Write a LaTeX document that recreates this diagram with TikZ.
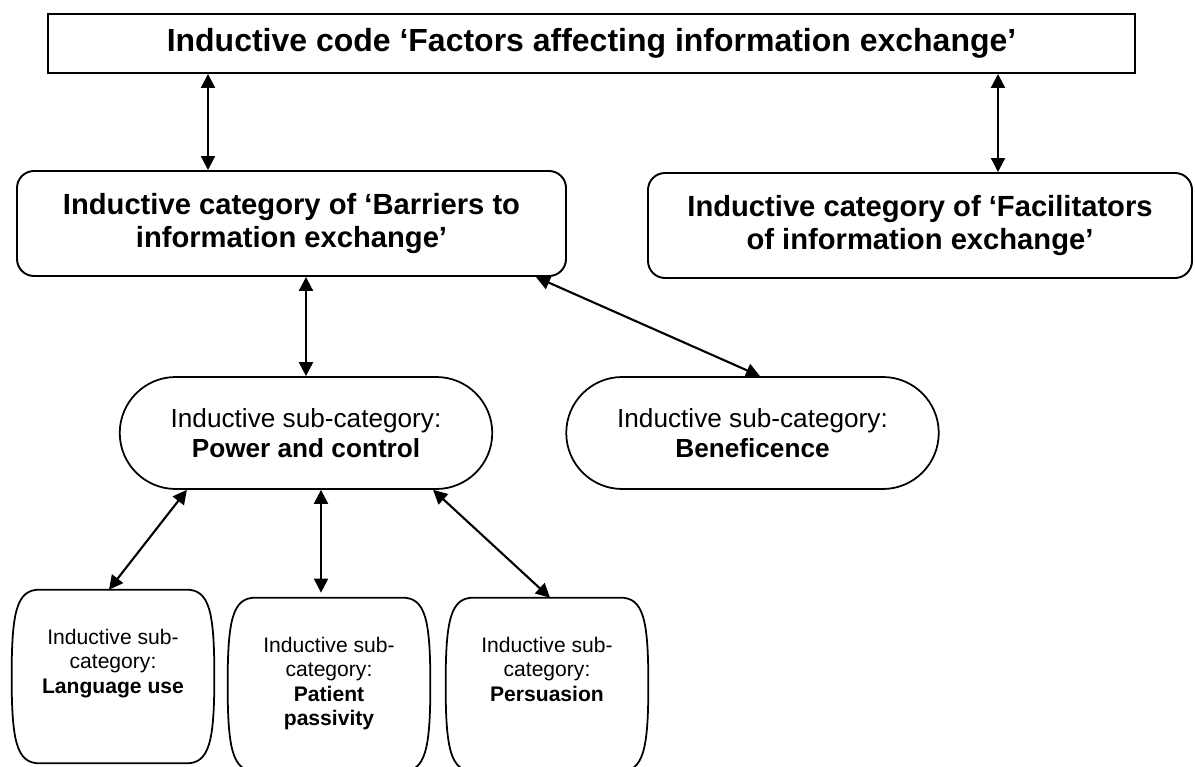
\documentclass[tikz,border=0pt]{standalone}
\usepackage{fontspec}
\setmainfont{Liberation Sans}
\usepackage{xcolor}
\usetikzlibrary{arrows.meta,positioning}

\begin{document}
\begin{tikzpicture}
\tikzset{every node/.style={align=center,inner sep=0pt}}
\tikzset{codebox/.style={draw,line width=1.1pt,minimum width=21.74cm,minimum height=1.18cm,font=\fontsize{18.2}{21}\selectfont\bfseries}}
\tikzset{catbox/.style={draw,line width=1.1pt,rounded corners=0.34cm,minimum width=10.98cm,minimum height=2.1cm,font=\fontsize{16.6}{19.1}\selectfont\bfseries}}
\tikzset{subcat/.style={draw,line width=1pt,rounded corners=1.12cm,minimum width=7.45cm,minimum height=2.24cm,font=\fontsize{14.9}{17.2}\selectfont}}
\tikzset{subsub/.style={minimum width=4.04cm,minimum height=3.46cm}}
\tikzset{subsubtext/.style={font=\fontsize{12}{13.9}\selectfont}}
\tikzset{link/.style={line width=1.2pt,>={Triangle[length=0.28cm,width=0.28cm]},<->}}

\useasboundingbox (0,0) rectangle (23.9,-15.34);

\node[codebox] (code) at (11.83,-0.87) {Inductive code ‘Factors affecting information exchange’};

\node[catbox] (barriers) at (5.83,-4.47) {Inductive category of ‘Barriers to\\information exchange’};
\node[catbox,minimum width=10.88cm] (facil) at (18.4,-4.51) {Inductive category of ‘Facilitators\\of information exchange’};

\node[subcat] (power) at (6.12,-8.66) {Inductive sub-category:\\{\bfseries Power and control}};
\node[subcat] (benef) at (15.05,-8.66) {Inductive sub-category:\\{\bfseries Beneficence}};

\node[subsub] (lang) at (2.26,-13.53) {};
\node[subsub] (patient) at (6.58,-13.69) {};
\node[subsub] (persuade) at (10.94,-13.69) {};
\foreach \n in {lang,patient,persuade}
  \draw[line width=1pt] ([xshift=0.56cm]\n.north west) -- ([xshift=-0.56cm]\n.north east)
    .. controls ([xshift=-0.1cm]\n.north east) and ([yshift=1.3cm]\n.east) .. (\n.east)
    .. controls ([yshift=-1.3cm]\n.east) and ([xshift=-0.1cm]\n.south east) .. ([xshift=-0.56cm]\n.south east)
    -- ([xshift=0.56cm]\n.south west)
    .. controls ([xshift=0.1cm]\n.south west) and ([yshift=-1.3cm]\n.west) .. (\n.west)
    .. controls ([yshift=1.3cm]\n.west) and ([xshift=0.1cm]\n.north west) .. cycle;

\node[subsubtext,below=0.78cm of lang.north] (langtext) {Inductive sub-\\category:\\{\bfseries Language use}};
\node[subsubtext,below=0.78cm of patient.north] (patienttext) {Inductive sub-\\category:\\{\bfseries Patient}\\{\bfseries passivity}};
\node[subsubtext,below=0.78cm of persuade.north] (persuadetext) {Inductive sub-\\category:\\{\bfseries Persuasion}};

% connectors
\coordinate (bt) at ([xshift=-1.67cm]barriers.north);
\draw[link] (code.south -| bt) -- (bt);
\coordinate (ft) at ([xshift=1.56cm]facil.north);
\draw[link] (code.south -| ft) -- (ft);
\draw[link] (barriers.south -| power.north) -- (power.north);
\draw[link] ([xshift=-0.62cm]barriers.south east) -- ([xshift=0.15cm]benef.north);
\draw[link] ([xshift=1.36cm]power.south west) -- ([xshift=-0.08cm]lang.north);
\coordinate (pp) at ([xshift=0.3cm]power.south);
\draw[link,shorten >=0.1cm] (pp) -- (pp |- patient.north);
\draw[link] ([xshift=-1.2cm]power.south east) -- ([xshift=0.06cm]persuade.north);

\end{tikzpicture}
\end{document}
